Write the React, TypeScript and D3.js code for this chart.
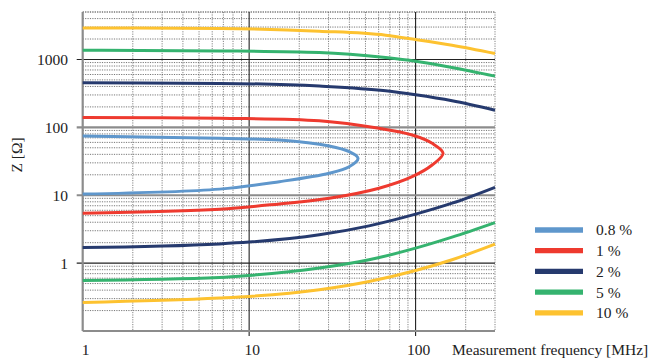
import * as d3 from 'd3';

// [frequency MHz, impedance Ω]
const acc08: [number, number][] = [
  [1, 74.5], [6.64, 68.9], [15.2, 65.0], [30.3, 53.1], [39.9, 43.8], [45.1, 35.0],
  [39.9, 26.3], [30.3, 21.1], [15.2, 15.85], [6.64, 12.3], [1, 10.4],
];
const acc1: [number, number][] = [
  [1, 140], [6.64, 136], [26.4, 125], [60.3, 96.7], [95.4, 77.1], [125.7, 58.2], [146.3, 41.5],
  [125.7, 27.9], [95.4, 18.8], [60.3, 12.7], [30.3, 9.03], [15.2, 7.45], [6.64, 6.23], [1, 5.43],
];
const acc2Upper: [number, number][] = [
  [1, 453], [6.64, 444], [26.4, 405], [66.1, 345], [100, 301], [165.6, 246], [300, 179],
];
const acc2Lower: [number, number][] = [
  [1, 1.7], [6.64, 1.92], [10, 2.04], [26.4, 2.61], [52.5, 3.54], [100, 5.26], [165.6, 7.63], [300, 13.1],
];
const acc5Upper: [number, number][] = [
  [1, 1371], [6.64, 1337], [26.4, 1267], [66.1, 1069], [100, 944], [165.6, 762], [300, 568],
];
const acc5Lower: [number, number][] = [
  [1, 0.555], [6.64, 0.614], [10, 0.657], [26.4, 0.845], [52.5, 1.12], [100, 1.66], [165.6, 2.41], [300, 3.95],
];
const acc10Upper: [number, number][] = [
  [1, 2917], [6.64, 2857], [26.4, 2606], [66.1, 2276], [100, 1968], [165.6, 1622], [300, 1225],
];
const acc10Lower: [number, number][] = [
  [1, 0.263], [6.64, 0.306], [10, 0.323], [26.4, 0.405], [52.5, 0.536], [100, 0.778], [165.6, 1.12], [300, 1.9],
];

const legendLabels = ['0.8 %', '1 %', '2 %', '5 %', '10 %'];
const colors = ['#5f97cc', '#ee3a2f', '#263a6e', '#35b36f', '#fdc230'];
const xTickLabels = [1, 10, 100];
const yTickLabels = [1000, 100, 10, 1];

const series = [
  { color: colors[0], loop: true, lines: [acc08] },
  { color: colors[1], loop: true, lines: [acc1] },
  { color: colors[2], loop: false, lines: [acc2Upper, acc2Lower] },
  { color: colors[3], loop: false, lines: [acc5Upper, acc5Lower] },
  { color: colors[4], loop: false, lines: [acc10Upper, acc10Lower] },
];

const FONT = '"Liberation Serif", "DejaVu Serif", serif';

export default function App() {
  const width = 651;
  const height = 358;
  const x = d3.scaleLog().domain([1, 300]).range([82.7, 495]);
  const y = d3.scaleLog().domain([0.1, 5000]).range([331, 12]);
  const [x0, x1] = x.range();
  const [y0, y1] = y.range();

  const loopLine = d3
    .line<[number, number]>()
    .x((d) => x(d[0]))
    .y((d) => y(d[1]))
    .curve(d3.curveCatmullRom.alpha(0.5));
  const openLine = d3
    .line<[number, number]>()
    .x((d) => x(d[0]))
    .y((d) => y(d[1]))
    .curve(d3.curveMonotoneX);

  const xMajor = [10, 100];
  const yBlack = [1000, 1];
  const yGray = [100, 10];
  const xMinor = x.ticks().filter((t) => t > 1 && !xMajor.includes(t));
  const yMinor = y.ticks().filter((t) => t > 0.1 && !yBlack.includes(t) && !yGray.includes(t));

  return (
    <svg width={width} height={height} style={{ position: 'absolute', left: 0, top: 0, background: '#fff' }}>
      {/* minor grid */}
      {xMinor.map((t) => (
        <line key={`xm${t}`} x1={x(t)} x2={x(t)} y1={y1} y2={y0} stroke="#666" strokeWidth={0.8} strokeDasharray="1.2 1.2" />
      ))}
      {yMinor.map((t) => (
        <line key={`ym${t}`} x1={x0} x2={x1} y1={y(t)} y2={y(t)} stroke="#555" strokeWidth={0.8} strokeDasharray="1.2 1.2" />
      ))}
      <line x1={x0} x2={x1} y1={y1} y2={y1} stroke="#666" strokeWidth={0.8} strokeDasharray="1.2 1.2" />
      {/* major grid */}
      {xMajor.map((t) => (
        <line key={`xM${t}`} x1={x(t)} x2={x(t)} y1={y1} y2={y0 + 5} stroke="#222" strokeWidth={1.1} />
      ))}
      {yBlack.map((t) => (
        <line key={`yB${t}`} x1={x0 - 6} x2={x1} y1={y(t)} y2={y(t)} stroke="#222" strokeWidth={1.1} />
      ))}
      {yGray.map((t) => (
        <line key={`yG${t}`} x1={x0 - 6} x2={x1} y1={y(t)} y2={y(t)} stroke="#8c8c8c" strokeWidth={2.2} />
      ))}
      {/* axes */}
      <line x1={x0} x2={x1} y1={y0} y2={y0} stroke="#8c8c8c" strokeWidth={1.8} />
      <line x1={x0} x2={x0} y1={y1} y2={y0} stroke="#8c8c8c" strokeWidth={2.2} />

      {series.map((s, i) =>
        s.lines.map((pts, j) => (
          <path
            key={`${i}-${j}`}
            d={(s.loop ? loopLine(pts) : openLine(pts)) ?? ''}
            fill="none"
            stroke={s.color}
            strokeWidth={3}
          />
        ))
      )}

      {xTickLabels.map((t) => (
        <text key={`xl${t}`} x={x(t) + 3} y={355} textAnchor="middle" fontFamily={FONT} fontSize={15.5} fill="#222">
          {t}
        </text>
      ))}
      <text x={452} y={355} fontFamily={FONT} fontSize={15.5} fill="#222">
        Measurement frequency [MHz]
      </text>
      {yTickLabels.map((t) => (
        <text key={`yl${t}`} x={68} y={y(t)} dy="0.35em" textAnchor="end" fontFamily={FONT} fontSize={15.5} fill="#222">
          {t}
        </text>
      ))}
      <text transform="translate(22,155) rotate(-90)" textAnchor="middle" fontFamily={FONT} fontSize={15.5} fill="#222">
        Z [Ω]
      </text>

      {legendLabels.map((label, i) => {
        const ly = 230 + i * 20.7;
        return (
          <g key={label}>
            <line x1={535} x2={583} y1={ly} y2={ly} stroke={colors[i]} strokeWidth={5.3} />
            <text x={596} y={ly} dy="0.35em" fontFamily={FONT} fontSize={15.5} fill="#222">
              {label}
            </text>
          </g>
        );
      })}
    </svg>
  );
}
